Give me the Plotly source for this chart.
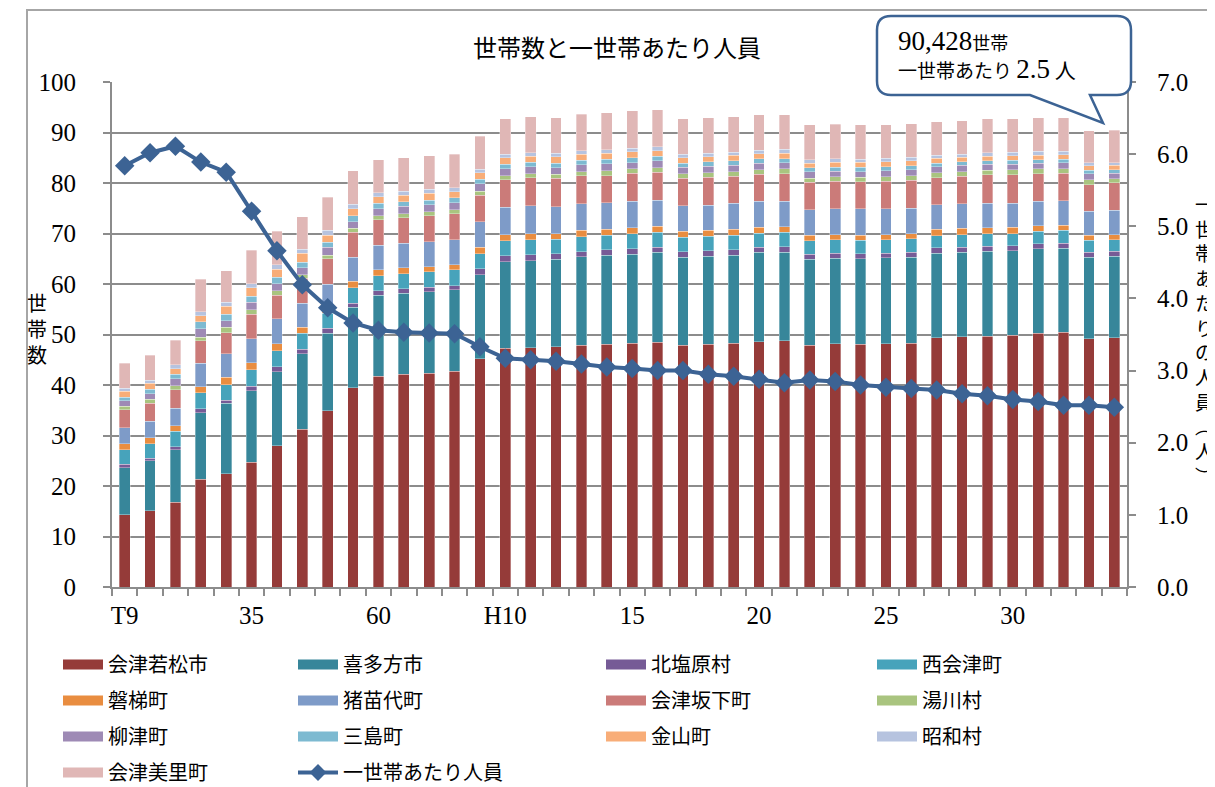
import plotly.graph_objects as go

# ---------------- data ----------------
categories = ["T9", "T14", "S5", "S25", "S30", "S35", "S40", "S45", "S50", "S55",
              "S60", "H2", "H7", "H8", "H9", "H10", "H11", "H12", "H13", "H14",
              "H15", "H16", "H17", "H18", "H19", "H20", "H21", "H22", "H23", "H24",
              "H25", "H26", "H27", "H28", "H29", "H30", "H31", "R2", "R3", "R4"]
tick_categories = ["T9", "S35", "S60", "H10", "H15", "H20", "H25", "H30"]
tick_labels = ["T9", "35", "60", "H10", "15", "20", "25", "30"]

series_names = ["会津若松市", "喜多方市", "北塩原村", "西会津町", "磐梯町", "猪苗代町",
                "会津坂下町", "湯川村", "柳津町", "三島町", "金山町", "昭和村", "会津美里町"]

aizuwakamatsu = [14.3, 15.1, 16.8, 21.3, 22.4, 24.7, 28.0, 31.2, 34.9, 39.5, 41.7, 42.1, 42.3, 42.7, 45.2,
                 47.3, 47.4, 47.6, 47.9, 48.1, 48.3, 48.5, 47.9, 48.1, 48.3, 48.6, 48.8, 47.9, 48.2, 48.1,
                 48.2, 48.3, 49.4, 49.6, 49.7, 49.9, 50.2, 50.4, 49.2, 49.4]
kitakata = [9.3, 9.9, 10.4, 13.2, 14.0, 14.2, 14.6, 15.0, 15.3, 15.9, 16.1, 16.1, 16.2, 16.2, 16.6,
            17.1, 17.2, 17.3, 17.5, 17.6, 17.6, 17.8, 17.4, 17.4, 17.4, 17.7, 17.5, 17.0, 16.9, 16.9,
            17.0, 17.0, 16.7, 16.7, 16.8, 16.7, 16.8, 16.7, 16.1, 16.1]
kitashiobara = [0.7, 0.5, 0.6, 0.8, 0.6, 0.9, 1.0, 0.9, 1.0, 0.8, 0.9, 0.9, 0.9, 0.8, 1.2,
                1.2, 1.2, 1.1, 1.0, 1.1, 1.1, 1.0, 1.1, 1.1, 1.1, 1.0, 1.1, 1.0, 1.0, 1.0,
                0.9, 1.0, 1.1, 1.0, 1.0, 1.0, 1.0, 1.0, 1.0, 1.0]
nishiaizu = [2.9, 2.9, 3.0, 3.2, 3.1, 3.2, 3.2, 3.1, 3.0, 3.1, 2.9, 2.9, 3.0, 3.1, 3.0,
             3.0, 3.0, 2.9, 3.0, 2.9, 3.0, 2.9, 2.9, 2.9, 2.9, 2.8, 2.8, 2.7, 2.7, 2.7,
             2.7, 2.7, 2.4, 2.5, 2.5, 2.4, 2.4, 2.5, 2.4, 2.3]
bandai = [1.2, 1.2, 1.1, 1.2, 1.4, 1.4, 1.4, 1.2, 1.2, 1.2, 1.2, 1.2, 1.0, 1.0, 1.3,
          1.2, 1.2, 1.1, 1.2, 1.1, 1.1, 1.2, 1.1, 1.1, 1.1, 1.1, 1.1, 1.1, 1.0, 1.0,
          1.0, 1.0, 1.2, 1.2, 1.1, 1.2, 1.1, 1.0, 1.0, 1.0]
inawashiro = [3.1, 3.2, 3.5, 4.6, 4.7, 4.8, 4.9, 4.8, 4.6, 4.8, 4.9, 4.9, 5.0, 5.0, 5.0,
              5.4, 5.5, 5.3, 5.3, 5.3, 5.3, 5.2, 5.1, 5.0, 5.2, 5.2, 5.1, 5.0, 5.1, 5.2,
              5.1, 5.0, 4.9, 4.9, 4.9, 4.8, 4.9, 4.9, 4.7, 4.8]
aizubange = [3.6, 3.6, 3.7, 4.5, 4.1, 4.8, 4.7, 4.9, 5.0, 4.9, 5.0, 5.0, 5.1, 5.1, 5.3,
             5.4, 5.5, 5.6, 5.5, 5.3, 5.5, 5.5, 5.4, 5.5, 5.3, 5.3, 5.4, 5.4, 5.4, 5.3,
             5.4, 5.5, 5.3, 5.4, 5.6, 5.6, 5.4, 5.4, 5.3, 5.5]
yugawa = [0.7, 0.8, 0.8, 0.7, 1.1, 0.9, 0.9, 0.7, 0.7, 0.8, 0.8, 0.8, 0.8, 0.8, 0.8,
          0.8, 0.8, 0.8, 0.8, 1.0, 0.9, 0.9, 0.9, 0.9, 0.9, 0.9, 1.0, 0.8, 0.9, 0.9,
          0.9, 0.9, 1.0, 0.9, 0.9, 1.0, 1.0, 0.9, 0.9, 0.7]
yanaizu = [1.1, 1.1, 1.3, 1.6, 1.3, 1.5, 1.4, 1.4, 1.6, 1.3, 1.4, 1.5, 1.4, 1.4, 1.5,
           1.4, 1.4, 1.3, 1.4, 1.4, 1.2, 1.4, 1.3, 1.3, 1.3, 1.3, 1.2, 1.3, 1.1, 1.1,
           1.2, 1.2, 1.2, 1.3, 1.2, 1.1, 1.1, 1.2, 1.2, 1.1]
mishima = [0.7, 0.9, 0.9, 1.4, 1.3, 1.2, 1.2, 1.1, 1.0, 1.2, 1.1, 0.9, 0.9, 1.0, 0.8,
           0.9, 0.9, 0.9, 0.9, 0.9, 1.0, 0.9, 0.8, 0.9, 0.9, 0.9, 0.8, 0.8, 0.8, 0.9,
           0.8, 0.8, 0.7, 0.7, 0.7, 0.8, 0.7, 0.7, 0.7, 0.7]
kaneyama = [1.2, 1.1, 1.1, 1.2, 1.6, 1.7, 1.6, 1.8, 1.4, 1.4, 1.3, 1.3, 1.4, 1.2, 1.3,
            1.3, 1.2, 1.3, 1.2, 1.2, 1.2, 1.1, 1.1, 1.0, 1.1, 1.0, 1.1, 0.9, 1.0, 1.0,
            1.0, 1.0, 1.0, 0.9, 0.9, 0.9, 0.9, 0.9, 0.9, 0.9]
showa = [0.6, 0.6, 0.8, 0.8, 0.8, 0.8, 0.9, 0.8, 0.9, 0.9, 0.8, 0.8, 0.8, 0.8, 0.7,
         0.7, 0.7, 0.7, 0.7, 0.7, 0.7, 0.8, 0.7, 0.7, 0.6, 0.7, 0.8, 0.7, 0.7, 0.6,
         0.7, 0.7, 0.6, 0.6, 0.7, 0.7, 0.8, 0.7, 0.6, 0.5]
aizumisato = [4.9, 5.0, 4.9, 6.4, 6.2, 6.6, 6.6, 6.4, 6.6, 6.6, 6.5, 6.6, 6.6, 6.6, 6.6,
              7.0, 7.1, 7.0, 7.2, 7.3, 7.4, 7.3, 7.0, 7.0, 7.0, 7.0, 6.8, 6.9, 6.8, 6.8,
              6.6, 6.6, 6.6, 6.6, 6.7, 6.6, 6.6, 6.6, 6.3, 6.4]

persons_per_household = [5.84, 6.02, 6.11, 5.89, 5.75, 5.21, 4.66, 4.19, 3.87, 3.66,
                         3.56, 3.53, 3.52, 3.51, 3.33, 3.17, 3.15, 3.13, 3.09, 3.05,
                         3.03, 3.00, 3.00, 2.95, 2.92, 2.88, 2.83, 2.87, 2.85, 2.80,
                         2.77, 2.75, 2.73, 2.68, 2.65, 2.60, 2.57, 2.52, 2.52, 2.49]
line_name = "一世帯あたり人員"

series_values = [aizuwakamatsu, kitakata, kitashiobara, nishiaizu, bandai, inawashiro,
                 aizubange, yugawa, yanaizu, mishima, kaneyama, showa, aizumisato]
series_colors = ["#953B39", "#37869A", "#765B96", "#47A3BB", "#E98D40", "#7E9BC8",
                 "#CB7B79", "#A9C47F", "#9E8AB5", "#7DBAD1", "#F8AD78", "#B6C3DF", "#E0B7B6"]
line_color = "#3C6394"

# ---------------- layout geometry ----------------
# Target picture coordinates (window pixels); the page body adds an 8px offset.
OFF = 8
WIN_W, WIN_H = 1215, 787
W, H = WIN_W - OFF, WIN_H - OFF
PL, PR, PT, PB = 112, 1127, 82, 587          # plot area in window pixels
PW, PH = PR - PL, PB - PT


def px(x, y):
    """window pixel -> paper coords"""
    return (x - PL) / PW, (PB - y) / PH


def cx(x):
    """window pixel -> container x"""
    return (x - OFF) / W


def cy(y):
    """window pixel -> container y"""
    return 1 - (y - OFF) / H


SERIF = "Liberation Serif"
JP = "Noto Sans CJK JP"

xpos = list(range(len(categories)))
tickvals = [categories.index(c) for c in tick_categories]

fig = go.Figure()

for name, vals, col in zip(series_names, series_values, series_colors):
    fig.add_trace(go.Bar(x=xpos, y=vals, name=name, marker_color=col,
                         marker_line=dict(color="rgba(255,255,255,0.55)", width=0.6),
                         showlegend=False, hovertemplate=name + ": %{y}<extra></extra>"))

fig.add_trace(go.Scatter(x=xpos, y=persons_per_household, name=line_name, yaxis="y2",
                         mode="lines+markers", showlegend=False,
                         line=dict(color=line_color, width=4),
                         marker=dict(symbol="diamond", size=15, color=line_color)))

# legend: 4 columns, filled row by row like the original
legend_ids = ["legend", "legend2", "legend3", "legend4"]
all_names = series_names + [line_name]
for i, name in enumerate(all_names):
    lg = legend_ids[i % 4]
    if name == line_name:
        fig.add_trace(go.Scatter(x=[None], y=[None], name=name, mode="lines+markers",
                                 legend=lg, legendgroup=name,
                                 line=dict(color=line_color, width=4),
                                 marker=dict(symbol="diamond", size=13, color=line_color)))
    else:
        fig.add_trace(go.Scatter(x=[None], y=[None], name=name, mode="lines",
                                 legend=lg, legendgroup=name,
                                 line=dict(color=series_colors[i], width=12)))

grid = "#8c8c8c"

legend_cols_px = [58, 293, 601, 872]
legend_common = dict(orientation="v", xref="container", yref="container",
                     y=cy(645), yanchor="top", xanchor="left",
                     traceorder="grouped", tracegroupgap=7, itemwidth=40,
                     font=dict(family=JP, size=20, color="black"),
                     bgcolor="rgba(0,0,0,0)")

layout_legends = {lid: dict(legend_common, x=cx(c)) for lid, c in zip(legend_ids, legend_cols_px)}

fig.update_layout(
    width=W, height=H,
    margin=dict(l=PL - OFF, r=WIN_W - PR, t=PT - OFF, b=WIN_H - PB, autoexpand=False),
    paper_bgcolor="white", plot_bgcolor="white",
    barmode="stack", bargap=0.58,
    font=dict(family=SERIF, size=24, color="black"),
    title=dict(text="世帯数と一世帯あたり人員", x=cx(617), xanchor="center",
               y=cy(49), yanchor="middle",
               font=dict(family=JP, size=24, color="black")),
    xaxis=dict(range=[-0.5, len(categories) - 0.5], tickmode="array",
               tickvals=tickvals, ticktext=tick_labels, ticks="", showgrid=False,
               showline=True, linecolor=grid, linewidth=2, zeroline=False,
               tickfont=dict(family=SERIF, size=25), ticklabelstandoff=5,
               minor=dict(ticks="outside", ticklen=7, tickcolor=grid, tickwidth=2,
                          tickmode="linear", tick0=-0.5, dtick=1, showgrid=False)),
    yaxis=dict(range=[0, 100], dtick=10, showgrid=True, gridcolor=grid, gridwidth=2,
               ticks="outside", ticklen=7, tickcolor=grid, tickwidth=2,
               showline=True, linecolor=grid, linewidth=2, zeroline=False,
               tickfont=dict(family=SERIF, size=25), ticklabelstandoff=22),
    yaxis2=dict(range=[0, 7], dtick=1, tickformat=".1f", overlaying="y", side="right",
                showgrid=False, ticks="outside", ticklen=7, tickcolor=grid, tickwidth=2,
                showline=True, linecolor=grid, linewidth=2, zeroline=False,
                tickfont=dict(family=SERIF, size=25), ticklabelstandoff=16),
    showlegend=True,
    **layout_legends,
)

# outer frame
fx0, fy0 = px(27, 10)
fx1, fy1 = px(1240, 820)
fig.add_shape(type="rect", xref="paper", yref="paper", x0=fx0, y0=fy1, x1=fx1, y1=fy0,
              line=dict(color="#a6a6a6", width=2), fillcolor="rgba(0,0,0,0)", layer="below")

# callout box
bx0, by0, bx1, by1, r = 877, 16, 1131, 95, 14


def P(x, y):
    a, b = px(x, y)
    return f"{a:.5f},{b:.5f}"


path = (f"M{P(bx0 + r, by0)} L{P(bx1 - r, by0)} Q{P(bx1, by0)} {P(bx1, by0 + r)} "
        f"L{P(bx1, by1 - r)} Q{P(bx1, by1)} {P(bx1 - r, by1)} "
        f"L{P(1090, by1)} L{P(1103, 123)} L{P(1030, by1)} "
        f"L{P(bx0 + r, by1)} Q{P(bx0, by1)} {P(bx0, by1 - r)} "
        f"L{P(bx0, by0 + r)} Q{P(bx0, by0)} {P(bx0 + r, by0)} Z")
fig.add_shape(type="path", xref="paper", yref="paper", path=path,
              line=dict(color=line_color, width=2.5), fillcolor="white", layer="above")

ax, ay = px(896, 41)
fig.add_annotation(xref="paper", yref="paper", x=ax, y=ay, xanchor="left", yanchor="middle",
                   showarrow=False,
                   text=f"<span style='font-family:{SERIF};font-size:27px'>90,428</span>"
                        f"<span style='font-family:{JP};font-size:18px'>世帯</span>")
ax, ay = px(896, 69)
fig.add_annotation(xref="paper", yref="paper", x=ax, y=ay, xanchor="left", yanchor="middle",
                   showarrow=False,
                   text=f"<span style='font-family:{JP};font-size:19px'>一世帯あたり </span>"
                        f"<span style='font-family:{SERIF};font-size:27px'>2.5</span>"
                        f"<span style='font-family:{JP};font-size:21px'> 人</span>")

# axis titles (vertical text)
ax, ay = px(37, 328)
fig.add_annotation(xref="paper", yref="paper", x=ax, y=ay, xanchor="center", yanchor="middle",
                   showarrow=False, text="<br>".join("世帯数"),
                   font=dict(family=JP, size=20, color="black"))
ax, ay = px(1204, 339)
fig.add_annotation(xref="paper", yref="paper", x=ax, y=ay, xanchor="center", yanchor="middle",
                   showarrow=False, text="<br>".join("一世帯あたりの人員︵人︶"),
                   font=dict(family=JP, size=19, color="black"))

# figure number (cut off at the top in the original)
ax, ay = px(82, 12)
fig.add_annotation(xref="paper", yref="paper", x=ax, y=ay, xanchor="center", yanchor="bottom",
                   showarrow=False, text="<b>図3</b>",
                   font=dict(family=JP, size=22, color="black"))

fig.write_html("out.html")
